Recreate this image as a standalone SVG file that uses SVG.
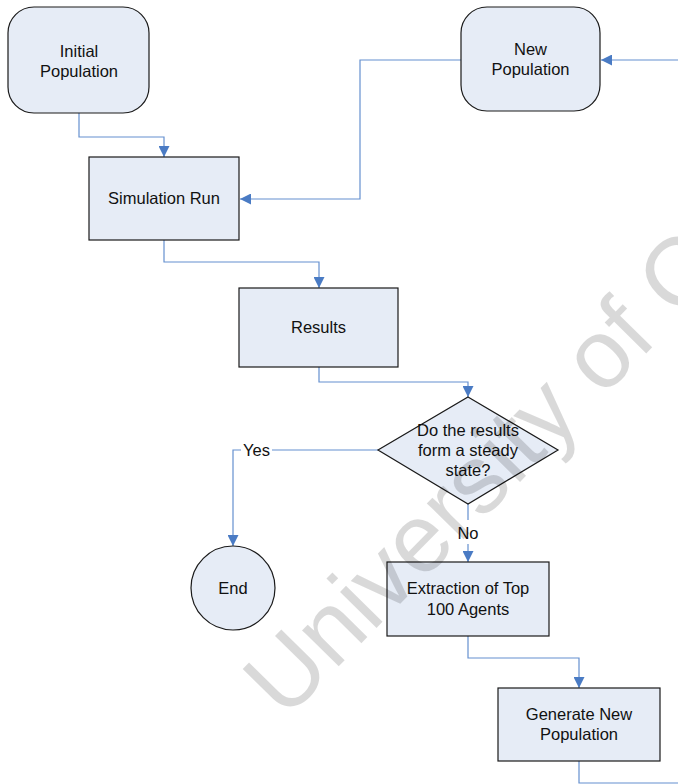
<svg xmlns="http://www.w3.org/2000/svg" width="678" height="784" viewBox="0 0 678 784">
  <defs>
    <style>
      .node { fill: #e6ecf6; stroke: #1a1a1a; stroke-width: 1.2; }
      .label { font-family: "Liberation Sans", Arial, sans-serif; font-size: 16.5px; fill: #111; text-anchor: middle; }
      .wire { fill: none; stroke: #6590cf; stroke-width: 1.2; }
      .tag { font-family: "Liberation Sans", Arial, sans-serif; font-size: 16.5px; fill: #111; }
      .mark { font-family: "Liberation Sans", Arial, sans-serif; font-size: 97px; fill: #000; fill-opacity: 0.15; }
    </style>
    <marker id="arrow" viewBox="0 0 10 10" refX="10" refY="5" markerWidth="11" markerHeight="11" markerUnits="userSpaceOnUse" orient="auto">
      <path d="M0,0 L10,5 L0,10 Z" fill="#4a7bc4"/>
    </marker>
  </defs>
  <rect width="678" height="784" fill="#ffffff"/>

  <!-- connectors -->
  <g id="connectors">
    <path class="wire" d="M79,113 V137 H164 V157" marker-end="url(#arrow)"/>
    <path class="wire" d="M461,60 H360 V199 H240" marker-end="url(#arrow)"/>
    <path class="wire" d="M690,60 H601" marker-end="url(#arrow)"/>
    <path class="wire" d="M164,240 V262 H319 V288" marker-end="url(#arrow)"/>
    <path class="wire" d="M319,367 V382 H468 V397" marker-end="url(#arrow)"/>
    <path class="wire" d="M378,450 H272 M241,450 H233 V546" marker-end="url(#arrow)"/>
    <text class="tag" x="243" y="456">Yes</text>
    <path class="wire" d="M468,504 V520 M468,544 V562" marker-end="url(#arrow)"/>
    <text class="label" x="468" y="539">No</text>
    <path class="wire" d="M468,636 V658 H579 V688" marker-end="url(#arrow)"/>
    <path class="wire" d="M579,761 V783 H690"/>
  </g>

  <g id="initial-population">
    <rect class="node" x="8" y="7" width="141" height="106" rx="26" ry="26"/>
    <text class="label" x="79" y="56.5">Initial</text>
    <text class="label" x="79" y="76.5">Population</text>
  </g>

  <g id="new-population">
    <rect class="node" x="461" y="7" width="139" height="104" rx="26" ry="26"/>
    <text class="label" x="530.5" y="55">New</text>
    <text class="label" x="530.5" y="75">Population</text>
  </g>

  <g id="simulation-run">
    <rect class="node" x="89" y="157" width="150" height="83"/>
    <text class="label" x="164" y="204">Simulation Run</text>
  </g>

  <g id="results">
    <rect class="node" x="239" y="288" width="159" height="79"/>
    <text class="label" x="318.5" y="333">Results</text>
  </g>

  <g id="steady-state">
    <polygon class="node" points="468,397 558,450 468,504 378,450"/>
    <text class="label" x="468" y="436">Do the results</text>
    <text class="label" x="468" y="456">form a steady</text>
    <text class="label" x="468" y="476">state?</text>
  </g>

  <g id="end">
    <circle class="node" cx="233" cy="588" r="42"/>
    <text class="label" x="233" y="593.5">End</text>
  </g>

  <g id="extraction">
    <rect class="node" x="387" y="562" width="162" height="74"/>
    <text class="label" x="468" y="594">Extraction of Top</text>
    <text class="label" x="468" y="615">100 Agents</text>
  </g>

  <g id="generate">
    <rect class="node" x="498" y="688" width="162" height="73"/>
    <text class="label" x="579" y="720">Generate New</text>
    <text class="label" x="579" y="740">Population</text>
  </g>

  <!-- rights mark across the page -->
  <text class="mark" transform="translate(285,721) rotate(-45.5)">University of C</text>
</svg>
